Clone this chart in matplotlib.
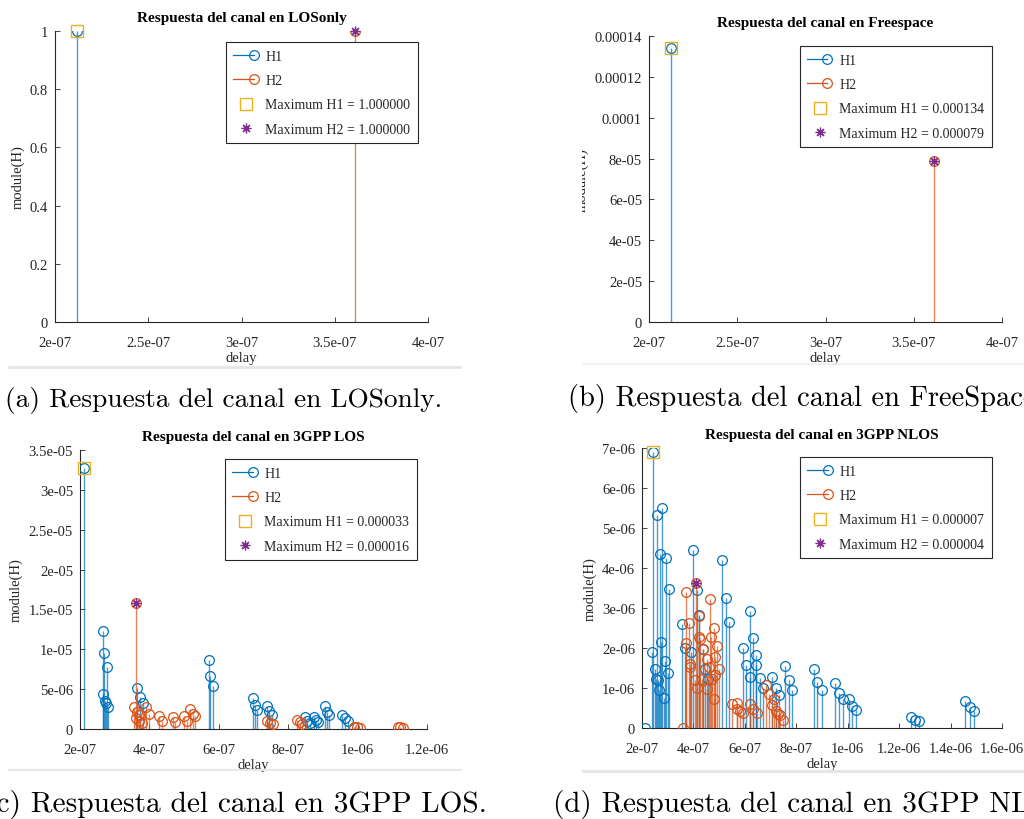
import numpy as np
import matplotlib
matplotlib.use("Agg")
import matplotlib.pyplot as plt
from matplotlib.lines import Line2D
from matplotlib.legend_handler import HandlerBase
from matplotlib.ticker import FuncFormatter
from matplotlib.transforms import Bbox, TransformedBbox

# (a) LOSonly
los_h1_delay = [2.12e-7]
los_h1_mag = [1.0]
los_h2_delay = [3.61e-7]
los_h2_mag = [1.0]

# (b) Freespace
fs_h1_delay = [2.125e-7]
fs_h1_mag = [1.34e-4]
fs_h2_delay = [3.612e-7]
fs_h2_mag = [7.9e-5]

# (c) 3GPP LOS
gl_h1_delay = [2.115e-7, 2.65e-7, 2.66e-7, 2.70e-7, 2.72e-7, 2.76e-7, 2.78e-7, 2.82e-7,
               3.65e-7, 3.73e-7, 3.81e-7, 5.71e-7, 5.76e-7, 5.82e-7,
               6.98e-7, 7.04e-7, 7.11e-7, 7.38e-7, 7.46e-7, 7.52e-7,
               8.49e-7, 8.55e-7, 8.62e-7, 8.73e-7, 8.80e-7, 8.86e-7,
               9.05e-7, 9.12e-7, 9.18e-7, 9.55e-7, 9.63e-7, 9.71e-7]
gl_h1_mag = [3.28e-5, 1.224e-5, 0.44e-5, 0.95e-5, 0.35e-5, 0.32e-5, 0.777e-5, 0.28e-5,
             0.51e-5, 0.40e-5, 0.32e-5, 0.865e-5, 0.668e-5, 0.543e-5,
             0.384e-5, 0.30e-5, 0.242e-5, 0.292e-5, 0.23e-5, 0.18e-5,
             0.146e-5, 0.10e-5, 0.08e-5, 0.146e-5, 0.11e-5, 0.09e-5,
             0.284e-5, 0.21e-5, 0.18e-5, 0.175e-5, 0.134e-5, 0.10e-5]
gl_h2_delay = [3.56e-7, 3.60e-7, 3.61e-7, 3.65e-7, 3.71e-7, 3.73e-7, 3.78e-7, 3.90e-7, 3.99e-7,
               4.28e-7, 4.35e-7, 4.67e-7, 4.74e-7, 5.00e-7, 5.07e-7, 5.17e-7, 5.25e-7, 5.31e-7,
               7.38e-7, 7.48e-7, 7.56e-7, 8.25e-7, 8.33e-7, 8.40e-7,
               9.90e-7, 9.98e-7, 1.006e-6, 1.115e-6, 1.123e-6, 1.131e-6]
gl_h2_mag = [0.28e-5, 1.579e-5, 0.134e-5, 0.217e-5, 0.10e-5, 0.175e-5, 0.075e-5, 0.28e-5, 0.188e-5,
             0.167e-5, 0.104e-5, 0.154e-5, 0.092e-5, 0.167e-5, 0.104e-5, 0.25e-5, 0.188e-5, 0.159e-5,
             0.10e-5, 0.075e-5, 0.06e-5, 0.11e-5, 0.085e-5, 0.06e-5,
             0.02e-5, 0.02e-5, 0.017e-5, 0.02e-5, 0.02e-5, 0.017e-5]

# (d) 3GPP NLOS
gn_h1_delay = [2.13e-7, 2.38e-7, 2.44e-7, 2.51e-7, 2.54e-7, 2.57e-7, 2.64e-7, 2.66e-7, 2.71e-7,
               2.73e-7, 2.79e-7, 2.84e-7, 2.88e-7, 2.94e-7, 3.03e-7, 3.04e-7,
               3.57e-7, 3.68e-7, 3.91e-7, 3.97e-7, 4.13e-7, 4.23e-7, 4.39e-7, 4.45e-7, 4.55e-7,
               5.12e-7, 5.25e-7, 5.39e-7, 5.91e-7, 6.04e-7, 6.19e-7, 6.19e-7, 6.32e-7,
               6.45e-7, 6.45e-7, 6.58e-7, 6.71e-7, 7.04e-7, 7.21e-7, 7.34e-7,
               7.56e-7, 7.70e-7, 7.84e-7, 8.70e-7, 8.82e-7, 8.99e-7,
               9.51e-7, 9.66e-7, 9.81e-7, 1.006e-6, 1.018e-6, 1.031e-6,
               1.247e-6, 1.262e-6, 1.278e-6, 1.458e-6, 1.474e-6, 1.490e-6]
gn_h1_mag = [0.0, 1.90e-6, 6.89e-6, 1.48e-6, 1.23e-6, 5.33e-6, 1.19e-6, 0.94e-6, 4.35e-6,
             2.16e-6, 5.51e-6, 0.75e-6, 1.67e-6, 4.25e-6, 1.37e-6, 3.48e-6,
             2.61e-6, 2.00e-6, 1.90e-6, 4.46e-6, 3.44e-6, 2.82e-6, 1.98e-6, 1.48e-6, 1.23e-6,
             4.20e-6, 3.25e-6, 2.66e-6, 2.01e-6, 1.57e-6, 2.93e-6, 1.27e-6, 2.26e-6,
             1.83e-6, 1.58e-6, 1.25e-6, 1.00e-6, 1.27e-6, 1.00e-6, 0.82e-6,
             1.54e-6, 1.19e-6, 0.96e-6, 1.48e-6, 1.15e-6, 0.94e-6,
             1.12e-6, 0.88e-6, 0.72e-6, 0.72e-6, 0.55e-6, 0.44e-6,
             0.27e-6, 0.21e-6, 0.17e-6, 0.67e-6, 0.52e-6, 0.42e-6]
gn_h2_delay = [3.60e-7, 3.70e-7, 3.73e-7, 3.83e-7, 3.86e-7, 3.88e-7, 4.05e-7, 4.09e-7, 4.14e-7,
               4.22e-7, 4.22e-7, 4.27e-7, 4.33e-7, 4.38e-7, 4.51e-7, 4.51e-7, 4.61e-7, 4.64e-7,
               4.70e-7, 4.74e-7, 4.79e-7, 4.79e-7, 4.84e-7, 4.84e-7, 4.92e-7, 5.00e-7,
               5.51e-7, 5.68e-7, 5.70e-7, 5.81e-7, 5.94e-7, 6.19e-7, 6.30e-7, 6.48e-7,
               6.84e-7, 6.94e-7, 7.04e-7, 7.13e-7, 7.21e-7, 7.30e-7, 7.36e-7, 7.47e-7]
gn_h2_mag = [0.0, 3.40e-6, 2.12e-6, 2.63e-6, 1.61e-6, 1.52e-6, 1.19e-6, 3.63e-6, 1.00e-6,
             2.81e-6, 2.27e-6, 2.23e-6, 1.23e-6, 1.98e-6, 0.98e-6, 1.73e-6, 1.52e-6, 3.23e-6,
             2.27e-6, 1.23e-6, 2.50e-6, 0.73e-6, 1.77e-6, 1.32e-6, 2.04e-6, 1.47e-6,
             0.61e-6, 0.63e-6, 0.48e-6, 0.42e-6, 0.37e-6, 0.61e-6, 0.47e-6, 0.37e-6,
             1.07e-6, 0.86e-6, 0.58e-6, 0.73e-6, 0.42e-6, 0.36e-6, 0.32e-6, 0.21e-6]

titles = ["Respuesta del canal en LOSonly", "Respuesta del canal en Freespace",
          "Respuesta del canal en 3GPP LOS", "Respuesta del canal en 3GPP NLOS"]
captions = ["(a) Respuesta del canal en LOSonly.", "(b) Respuesta del canal en FreeSpace.",
            "(c) Respuesta del canal en 3GPP LOS.", "(d) Respuesta del canal en 3GPP NLOS."]
xlims = [(2e-7, 4e-7), (2e-7, 4e-7), (2e-7, 1.2e-6), (2e-7, 1.6e-6)]
xticks = [np.arange(2e-7, 4.01e-7, 0.5e-7), np.arange(2e-7, 4.01e-7, 0.5e-7),
          np.arange(2e-7, 1.21e-6, 2e-7), np.arange(2e-7, 1.61e-6, 2e-7)]
ylims = [(0, 1), (0, 1.4e-4), (0, 3.5e-5), (0, 7e-6)]
yticks = [np.arange(0, 1.01, 0.2), np.arange(0, 1.41e-4, 2e-5),
          np.arange(0, 3.51e-5, 5e-6), np.arange(0, 7.01e-6, 1e-6)]

C_H1 = "#0072BD"
C_H2 = "#D95319"
C_M1 = "#EDB120"
C_M2 = "#7E2F8E"
AX_COL = "#262626"
SERIF = ["Liberation Serif", "DejaVu Serif"]


class StemHandler(HandlerBase):
    # line with the open circle at its right end, like MATLAB stem legends
    def create_artists(self, legend, orig_handle, xdescent, ydescent, width, height, fontsize, trans):
        y = height / 2 - ydescent
        ms = orig_handle.get_markersize()
        x1 = width - xdescent - ms / 2
        c = orig_handle.get_color()
        line = Line2D([-xdescent, x1], [y, y], color=c, lw=orig_handle.get_linewidth())
        mk = Line2D([x1], [y], ls="none", marker="o", mfc="none", mec=c, ms=ms,
                    mew=orig_handle.get_markeredgewidth())
        line.set_transform(trans)
        mk.set_transform(trans)
        return [line, mk]


fig = plt.figure(figsize=(10.24, 8.2), dpi=100)
W, H = 1024.0, 820.0

# axes boxes in pixels: left, top, right, bottom
boxes = [(55, 32, 428, 323), (649, 37, 1002, 323), (80, 451, 427, 730), (642, 449, 1002, 729)]
legend_corner = [(418, 43), (992, 47), (417, 460), (992, 458)]

data = [(los_h1_delay, los_h1_mag, los_h2_delay, los_h2_mag),
        (fs_h1_delay, fs_h1_mag, fs_h2_delay, fs_h2_mag),
        (gl_h1_delay, gl_h1_mag, gl_h2_delay, gl_h2_mag),
        (gn_h1_delay, gn_h1_mag, gn_h2_delay, gn_h2_mag)]

fmt = FuncFormatter(lambda v, p: "%g" % v)

for i, (d1, m1, d2, m2) in enumerate(data):
    l, t, r, b = boxes[i]
    ax = fig.add_axes([l / W, 1 - b / H, (r - l) / W, (b - t) / H])
    d1, m1, d2, m2 = map(np.asarray, (d1, m1, d2, m2))

    ax.vlines(d1, 0, m1, color=C_H1, lw=1.0, alpha=0.7, zorder=2)
    ax.plot(d1, m1, ls="none", marker="o", mfc="none", mec=C_H1, ms=7, mew=0.9, zorder=3)
    ax.vlines(d2, 0, m2, color=C_H2, lw=1.0, alpha=0.7, zorder=4)
    ax.plot(d2, m2, ls="none", marker="o", mfc="none", mec=C_H2, ms=7, mew=0.9, zorder=5)

    k1 = np.argmax(m1)
    k2 = np.argmax(m2)
    ax.plot(d1[k1], m1[k1], ls="none", marker="s", mfc="none", mec=C_M1, ms=8, mew=1.0, zorder=6,
            clip_on=False)
    ax.plot(d2[k2], m2[k2], ls="none", marker=(8, 2, 0), mec=C_M2, ms=7, mew=0.9, zorder=7,
            clip_on=False)

    ax.set_xlim(*xlims[i])
    ax.set_ylim(*ylims[i])
    ax.set_xticks(xticks[i])
    ax.set_yticks(yticks[i])
    ax.xaxis.set_major_formatter(fmt)
    ax.yaxis.set_major_formatter(fmt)
    for s in ("top", "right"):
        ax.spines[s].set_visible(False)
    for s in ("left", "bottom"):
        ax.spines[s].set_color(AX_COL)
        ax.spines[s].set_linewidth(0.8)
    ax.tick_params(direction="in", length=3.5, width=0.6, color=AX_COL, labelcolor=AX_COL,
                   labelsize=10.5, pad=5)
    ax.tick_params(axis="x", pad=10)
    for lab in ax.get_xticklabels() + ax.get_yticklabels():
        lab.set_family(SERIF)

    ax.set_title(titles[i], fontsize=11, fontweight="bold", family=SERIF, pad=7)
    ax.set_xlabel("delay", fontsize=10.5, family=SERIF, color=AX_COL, labelpad=1.5)
    if i != 1:
        ax.set_ylabel("module(H)", fontsize=10.5, family=SERIF, color=AX_COL, labelpad=4)

    p1 = Line2D([], [], color=C_H1, lw=0.9, marker="o", mfc="none", ms=7, mew=0.9)
    p2 = Line2D([], [], color=C_H2, lw=0.9, marker="o", mfc="none", ms=7, mew=0.9)
    p3 = Line2D([], [], ls="none", marker="s", mfc="none", mec=C_M1, ms=8, mew=1.0)
    p4 = Line2D([], [], ls="none", marker=(8, 2, 0), mec=C_M2, ms=7, mew=0.9)
    lx, ly = legend_corner[i]
    leg = ax.legend([p1, p2, p3, p4],
                    ["H1", "H2", "Maximum H1 = %f" % m1[k1], "Maximum H2 = %f" % m2[k2]],
                    handler_map={p1: StemHandler(), p2: StemHandler()},
                    loc="upper right", bbox_to_anchor=(lx / W, 1 - ly / H),
                    bbox_transform=fig.transFigure, borderaxespad=0, numpoints=1,
                    prop={"family": SERIF, "size": 10}, fancybox=False, framealpha=1,
                    edgecolor=AX_COL, handlelength=1.8, handletextpad=0.5,
                    labelspacing=0.82, borderpad=0.55)
    leg.get_frame().set_linewidth(0.8)
    for txt in leg.get_texts():
        txt.set_color(AX_COL)

# clipped y label of panel (b): only its right edge shows
yl = fig.text(581.5 / W, 1 - 180 / H, "module(H)", rotation=90, ha="center", va="center",
              fontsize=10.5, family=SERIF, color=AX_COL)
yl.set_clip_box(TransformedBbox(Bbox([[582 / W, 0], [1, 1]]), fig.transFigure))
yl.set_clip_on(True)

# thin grey rules under each sub-figure
rules = [((9, 460), 368, "#e6e6e6", 2.0), ((583, 1024), 365, "#efefef", 1.2),
         ((9, 461), 771, "#e9e9e9", 1.6), ((583, 1024), 772, "#e6e6e6", 2.2)]
for (x0, x1), y, c, lw in rules:
    fig.add_artist(Line2D([x0 / W, x1 / W], [1 - y / H, 1 - y / H], color=c, lw=lw,
                          transform=fig.transFigure))

# sub-figure captions (cut by the page edge, as in the source)
cap_pos = [(5, 401, 19.7), (568, 399, 20.5), (-15, 805, 21.2), (553, 805, 21.0)]
for (x, y, fs), txt in zip(cap_pos, captions):
    fig.text(x / W, 1 - y / H, txt, ha="left", va="center", fontsize=fs,
             family=["cmr10", "DejaVu Serif"], color="black")

fig.savefig("out.png", dpi=100, facecolor="white")
